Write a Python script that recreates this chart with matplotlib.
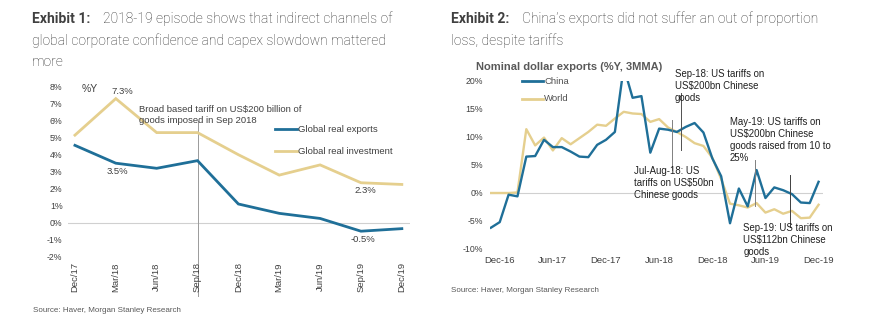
import matplotlib
matplotlib.use("Agg")
import matplotlib.pyplot as plt

# Colours
BLUE = "#1f6f98"
TAN = "#e5cf8e"
GREY_TXT = "#404040"
ZERO = "#d0d0d0"

# ---------------- Exhibit 1 data ----------------
quarters = ["Dec/17", "Mar/18", "Jun/18", "Sep/18", "Dec/18",
            "Mar/19", "Jun/19", "Sep/19", "Dec/19"]
real_exports = [4.55, 3.5, 3.2, 3.65, 1.1, 0.55, 0.25, -0.5, -0.35]
real_investment = [5.15, 7.3, 5.3, 5.3, 4.0, 2.8, 3.4, 2.35, 2.25]

# ---------------- Exhibit 2 data (monthly, Nov-16 .. Dec-19) ----------------
china = [-6.2, -5.2, -0.3, -0.6, 6.5, 6.6, 9.5, 8.2, 8.2, 7.4,
         6.5, 6.4, 8.6, 9.5, 10.9, 22.5, 17.0, 17.3, 7.2, 11.5,
         11.3, 10.9, 11.8, 12.5, 10.8, 6.2, 3.0, -5.4, 0.8, -2.4,
         4.1, -0.9, 1.0, 0.5, -0.2, -1.7, -1.8, 2.0]
world = [0.0, 0.0, 0.0, 0.1, 11.4, 8.5, 9.9, 7.6, 9.8, 8.7,
         9.8, 10.9, 12.2, 12.0, 13.3, 14.5, 14.2, 14.1, 12.7, 13.2,
         11.7, 10.9, 10.0, 8.9, 8.4, 6.3, 2.5, -1.9, -2.2, -2.6,
         -1.8, -3.5, -2.9, -3.7, -3.2, -4.5, -4.4, -2.1]
month_ticks = [1, 7, 13, 19, 25, 31, 37]
month_labels = ["Dec-16", "Jun-17", "Dec-17", "Jun-18", "Dec-18", "Jun-19", "Dec-19"]

plt.rcParams["font.family"] = ["Liberation Sans", "DejaVu Sans"]

W, H = 884, 327
fig = plt.figure(figsize=(W / 100, H / 100), dpi=100)


def fx(px):
    return px / W


def fy(py):
    return 1 - py / H


# ---------------- titles ----------------
tfont = dict(family=["Roboto", "DejaVu Sans"], fontsize=10, va="center")
body = dict(fontweight="light", color="#2e2e2e", **tfont)
fig.text(fx(32), fy(19), "Exhibit 1:", fontweight="bold", color=GREY_TXT, **tfont)
fig.text(fx(103), fy(19), "2018-19 episode shows that indirect channels of", **body)
fig.text(fx(32), fy(41), "global corporate confidence and capex slowdown mattered", **body)
fig.text(fx(32), fy(62), "more", **body)

fig.text(fx(451), fy(19), "Exhibit 2:", fontweight="bold", color=GREY_TXT, **tfont)
fig.text(fx(522), fy(19), "China\u2019s exports did not suffer an out of proportion", **body)
fig.text(fx(451), fy(41), "loss, despite tariffs", **body)

fig.text(fx(33), fy(310), "Source: Haver, Morgan Stanley Research", fontsize=5.8, color="#595959", va="center")
fig.text(fx(451), fy(290), "Source: Haver, Morgan Stanley Research", fontsize=5.8, color="#595959", va="center")

# ---------------- Exhibit 1 ----------------
ax1 = fig.add_axes([fx(68), fy(256.7), fx(410 - 68), (256.7 - 86.7) / H])
x1 = list(range(len(quarters)))
ax1.plot(x1, real_investment, color=TAN, lw=2.0, solid_joinstyle="miter")
ax1.plot(x1, real_exports, color=BLUE, lw=2.0, solid_joinstyle="miter")
ax1.axhline(0, color=ZERO, lw=0.8, zorder=0)
ax1.set_xlim(-0.17, 8.2)
ax1.set_ylim(-2, 8)
ax1.set_yticks(range(-2, 9))
ax1.set_yticklabels([f"{v}%" for v in range(-2, 9)])
ax1.set_xticks(x1)
ax1.set_xticklabels(quarters, rotation=90, va="top")
ax1.tick_params(length=0, labelsize=6.3, colors="#404040", pad=4)
ax1.tick_params(axis="x", labelsize=6.8)
for s in ax1.spines.values():
    s.set_visible(False)

ax1.plot([3, 3], [6.0, -4.3], color="#9a9a9a", lw=0.7, clip_on=False, zorder=1)
ax1.text(1.57, 6.35, "Broad based tariff on US$200 billion of\ngoods imposed in Sep 2018",
         fontsize=6.8, color="#404040", va="center", linespacing=1.3)
ax1.text(0.37, 7.85, "%Y", fontsize=7.5, color="#404040", ha="center", va="center")
lbl = dict(fontsize=6.8, color="#404040", ha="center", va="center")
ax1.text(1.15, 7.7, "7.3%", **lbl)
ax1.text(1.05, 3.0, "3.5%", **lbl)
ax1.text(7.1, 1.9, "2.3%", **lbl)
ax1.text(7.05, -1.0, "-0.5%", **lbl)

ax1.plot([4.9, 5.44], [5.5, 5.5], color=BLUE, lw=2.0)
ax1.text(5.47, 5.5, "Global real exports", fontsize=6.8, color="#404040", va="center")
ax1.plot([4.9, 5.44], [4.2, 4.2], color=TAN, lw=2.0)
ax1.text(5.47, 4.2, "Global real investment", fontsize=6.8, color="#404040", va="center")

# ---------------- Exhibit 2 ----------------
ax2 = fig.add_axes([fx(490), fy(249), fx(823 - 490), (249 - 81) / H])
x2 = list(range(len(china)))
ax2.axhline(0, color=ZERO, lw=0.8, zorder=0)
ax2.plot(x2, world, color=TAN, lw=1.7)
ax2.plot(x2, china, color=BLUE, lw=1.7)
ax2.set_xlim(-0.1, 37.5)
ax2.set_ylim(-10, 20)
ax2.set_yticks(range(-10, 21, 5))
ax2.set_yticklabels([f"{v}%" for v in range(-10, 21, 5)])
ax2.set_xticks(month_ticks)
ax2.set_xticklabels(month_labels)
ax2.tick_params(length=0, labelsize=6.3, colors="#404040", pad=5)
ax2.tick_params(axis="x", labelsize=6.8, pad=5)
for s in ax2.spines.values():
    s.set_visible(False)

fig.text(fx(476), fy(67), "Nominal dollar exports (%Y, 3MMA)", fontsize=8, fontweight="bold",
         color="#595959", va="center")

ax2.plot([3.5, 5.9], [20.0, 20.0], color=BLUE, lw=2.0, clip_on=False)
ax2.text(6.0, 20.0, "China", fontsize=6.8, color="#505050", va="center")
ax2.plot([3.5, 5.9], [16.8, 16.8], color=TAN, lw=2.0)
ax2.text(6.0, 16.8, "World", fontsize=6.8, color="#505050", va="center")

ann = dict(fontsize=6.9, color="#202020", va="center", linespacing=1.25)
ax2.plot([21.5, 21.5], [17.9, 7.7], color="#505050", lw=0.7)
ax2.text(20.8, 19.1, "Sep-18: US tariffs on\nUS$200bn Chinese\ngoods", clip_on=False, **ann)
ax2.plot([20.4, 20.4], [13.0, 4.1], color="#808080", lw=0.7)
ax2.text(16.2, 1.8, "Jul-Aug-18: US\ntariffs on US$50bn\nChinese goods", **ann)
ax2.plot([29.8, 29.8], [5.9, -2.4], color="#808080", lw=0.7)
ax2.text(27.0, 9.5, "May-19: US tariffs on\nUS$200bn Chinese\ngoods raised from 10 to\n25%", **ann)
ax2.plot([33.8, 33.8], [3.2, -6.0], color="#404040", lw=0.7)
ax2.text(28.5, -8.4, "Sep-19: US tariffs on\nUS$112bn Chinese\ngoods", **ann)

fig.savefig("out.png", dpi=100)
